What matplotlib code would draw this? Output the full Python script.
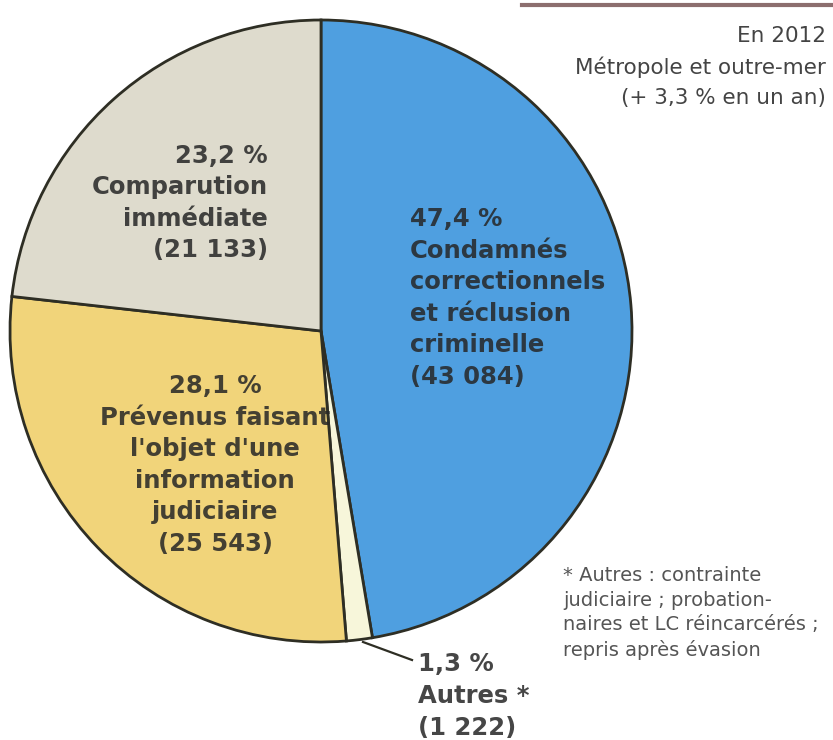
import matplotlib
matplotlib.use("Agg")
import matplotlib.pyplot as plt
from matplotlib.lines import Line2D

# ---- data ----
categories = ["Condamnés\ncorrectionnels\net réclusion\ncriminelle",
              "Autres *",
              "Prévenus faisant\nl'objet d'une\ninformation\njudiciaire",
              "Comparution\nimmédiate"]
percent_labels = ["47,4 %", "1,3 %", "28,1 %", "23,2 %"]
counts = [43084, 1222, 25543, 21133]
count_labels = ["(43 084)", "(1 222)", "(25 543)", "(21 133)"]
colors = ["#4f9fe0", "#f7f6da", "#f1d47a", "#dedbcd"]

W, H = 833, 740
fig = plt.figure(figsize=(W / 100, H / 100), dpi=100)
fig.patch.set_facecolor("white")

cx, cy, r = 321, 331, 311
ax = fig.add_axes([(cx - r) / W, 1 - (cy + r) / H, 2 * r / W, 2 * r / H])
ax.pie(counts, colors=colors, startangle=90, counterclock=False,
       wedgeprops=dict(edgecolor="#2e2e24", linewidth=2.0))
ax.set_xlim(-1, 1)
ax.set_ylim(-1, 1)
ax.set_aspect("auto")
ax.axis("off")

def fx(x):
    return x / W

def fy(y):
    return 1 - y / H

tc = "#262626"
bold = dict(fontweight="bold", fontsize=17.5, color=tc, alpha=0.85,
            linespacing=1.4, family="DejaVu Sans")

# Condamnés (blue) - left aligned
fig.text(fx(410), fy(298), percent_labels[0] + "\n" + categories[0] + "\n" + count_labels[0],
         ha="left", va="center", **bold)
# Comparution (gray) - right aligned
fig.text(fx(268), fy(203), percent_labels[3] + "\n" + categories[3] + "\n" + count_labels[3],
         ha="right", va="center", multialignment="right", **bold)
# Prévenus (yellow) - centred
fig.text(fx(215), fy(465), percent_labels[2] + "\n" + categories[2] + "\n" + count_labels[2],
         ha="center", va="center", multialignment="center", **bold)
# Autres - outside, left aligned
fig.text(fx(418), fy(696), percent_labels[1] + "\n" + categories[1] + "\n" + count_labels[1],
         ha="left", va="center", **bold)

# leader line for "Autres"
fig.add_artist(Line2D([fx(363), fx(412)], [fy(642), fy(660)],
                      color="#2e2e24", linewidth=1.6))

# top-right header rule
fig.add_artist(Line2D([fx(522), fx(833)], [fy(5), fy(5)],
                      color="#8c6e6e", linewidth=3))

fig.text(fx(826), fy(67), "En 2012\nMétropole et outre-mer\n(+ 3,3 % en un an)",
         ha="right", va="center", multialignment="right",
         fontsize=15.5, color="#444444", linespacing=1.6, family="DejaVu Sans")

fig.text(fx(563), fy(613),
         "* Autres : contrainte\njudiciaire ; probation-\nnaires et LC réincarcérés ;\nrepris après évasion",
         ha="left", va="center", multialignment="left",
         fontsize=14, color="#555555", linespacing=1.35, family="DejaVu Sans")

fig.savefig("out.png", dpi=100, facecolor="white")
